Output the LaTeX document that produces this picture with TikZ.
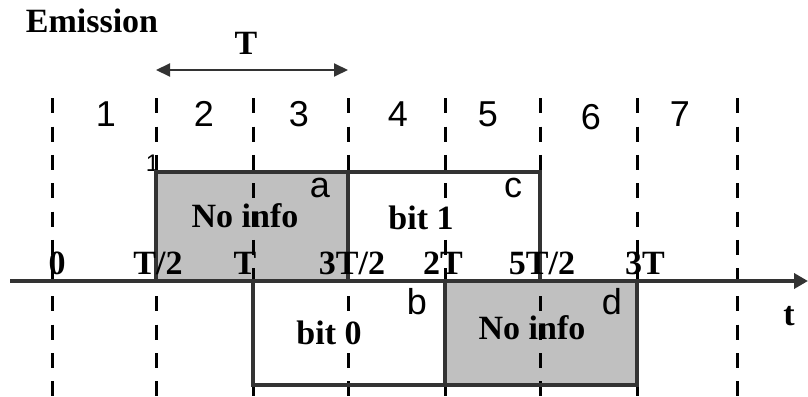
\documentclass[tikz,border=0pt]{standalone}
\usepackage{fontspec}
\setmainfont{Liberation Serif}
\newfontfamily\labelsans{Liberation Sans}
\usetikzlibrary{arrows.meta}
\definecolor{ink}{HTML}{333333}
\definecolor{slot}{HTML}{C0C0C0}

\begin{document}
\begin{tikzpicture}[x=1pt,y=-1pt,
  serif/.style={font=\fontsize{34}{36}\selectfont\bfseries, inner sep=0pt},
  sans/.style={font=\fontsize{36}{38}\selectfont\labelsans, inner sep=0pt},
  mark1/.style={font=\fontsize{24}{26}\selectfont\labelsans, inner sep=0pt},
  grid/.style={line width=3pt, dash pattern=on 15pt off 13.3pt},
  edge/.style={draw=ink, line width=3.5pt, line join=miter}]
\useasboundingbox (0,0) rectangle (808,396);

% shaded "no info" slots
\fill[slot] (156,172) rectangle (348,281);
\fill[slot] (445,281) rectangle (637,385);

% stray corner mark
\node[mark1] (corner) at (152.6,163.5) {1};

% slot boundaries
\foreach \x in {52,156,253,348,445,540,637,737}
  \draw[grid] (\x,98.3) -- (\x,396);

% emitted symbol outlines
\draw[edge] (156,281) -- (156,172) -- (540,172) -- (540,281);
\draw[edge] (253,281) -- (253,385) -- (637,385) -- (637,281);
\draw[edge] (445,281) -- (445,385);
\draw[edge] (348,172) -- (348,281);

% time axis
\coordinate (axL) at (10,281);
\coordinate (axR) at (808,281);
\draw[ink, line width=4pt, -{Triangle[length=14pt,width=15pt]}] (axL) -- (axR);

% period marker
\coordinate (pL) at (156,70);
\coordinate (pR) at (348,70);
\draw[ink, line width=2pt, {Triangle[length=14pt,width=13pt]}-{Triangle[length=14pt,width=13pt]}] (pL) -- (pR);

% titles
\node[serif] (emission) at (92,21) {Emission};
\node[serif] (period) at (246,43) {T};

% slot numbers
\node[sans] (s1) at (106,114) {1};
\node[sans] (s2) at (204,114) {2};
\node[sans] (s3) at (299,114) {3};
\node[sans] (s4) at (398,114) {4};
\node[sans] (s5) at (488,114) {5};
\node[sans] (s6) at (591,117) {6};
\node[sans] (s7) at (680,114) {7};

% axis ticks
\node[serif] (t0) at (57,263) {0};
\node[serif] (t1) at (158,263) {T/2};
\node[serif] (t2) at (245,263) {T};
\node[serif] (t3) at (352,263) {3T/2};
\node[serif] (t4) at (443,263) {2T};
\node[serif] (t5) at (542,263) {5T/2};
\node[serif] (t6) at (645,263) {3T};
\node[serif] (tt) at (789,316) {t};

% slot contents
\node[serif] (ni1) at (245,216) {No info};
\node[serif] (b1) at (421,218) {bit 1};
\node[serif] (b0) at (329,333) {bit 0};
\node[serif] (ni2) at (532,328) {No info};

% corner letters
\node[sans] (la) at (320,188) {a};
\node[sans] (lc) at (513,188) {c};
\node[sans] (lb) at (417,302) {b};
\node[sans] (ld) at (612,302) {d};
\end{tikzpicture}
\end{document}
